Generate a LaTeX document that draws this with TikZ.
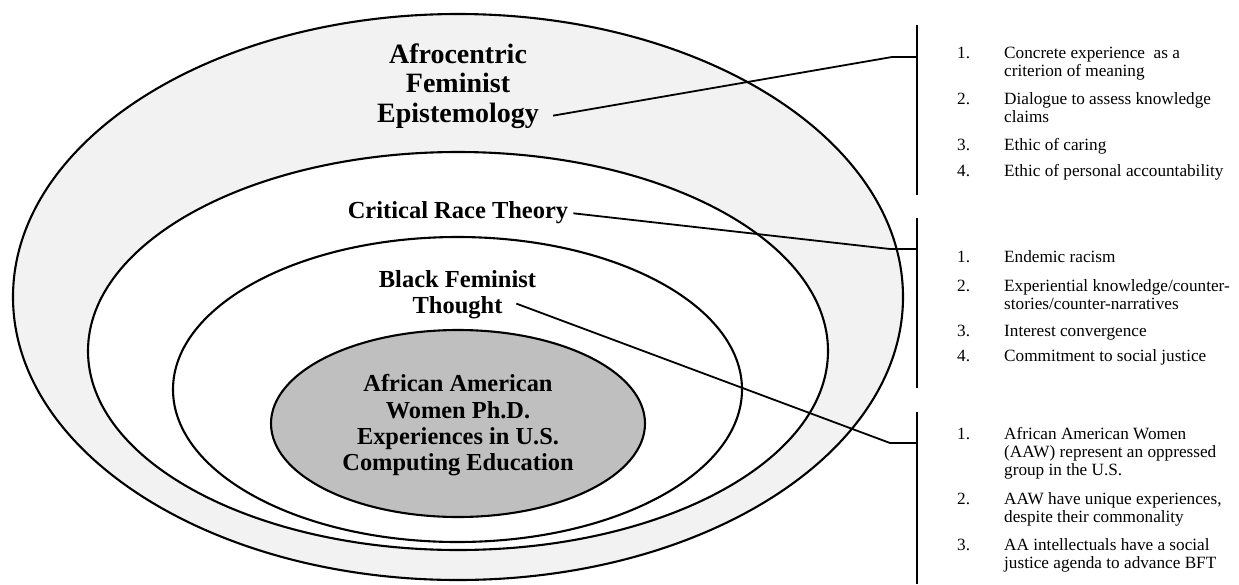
\documentclass[tikz,border=0pt]{standalone}
\usepackage{fontspec}
\setmainfont{Liberation Serif}
\usetikzlibrary{calc,shapes.geometric}
\definecolor{afefill}{gray}{0.949}
\definecolor{corefill}{gray}{0.749}

\begin{document}
\begin{tikzpicture}[x=1pt,y=-1pt,
  ring/.style={draw=black, line width=2.1pt, ellipse, inner sep=0pt},
  layerlabel/.style={font=\bfseries\fontsize{24.5}{26.2}\selectfont, align=center, inner sep=0pt},
  link/.style={draw=black, line width=1.8pt, line join=round},
  bracketbar/.style={draw=black, line width=2.7pt},
  tenets/.style={font=\fontsize{17.2}{18}\selectfont, align=left, inner sep=0pt, anchor=north west},
]
\useasboundingbox (0,0) rectangle (1239,584);

% nested layers, outermost first
\node[ring, fill=afefill, minimum width=890pt, minimum height=566pt] (afe) at (458,297) {};
\node[ring, fill=white, minimum width=740pt, minimum height=398pt] (crt) at (458,351) {};
\node[ring, fill=white, minimum width=569pt, minimum height=305pt] (bft) at (457.5,389.5) {};
\node[ring, fill=corefill, minimum width=374pt, minimum height=187pt] (core) at (458,423.5) {};

% layer names
\node[layerlabel, font=\bfseries\fontsize{28}{29.5}\selectfont] (afelabel) at (458,86)
  {Afrocentric\\Feminist\\Epistemology};
\node[layerlabel] (crtlabel) at (458,212.3) {Critical Race Theory};
\node[layerlabel, font=\bfseries\fontsize{24.5}{26}\selectfont] (bftlabel) at (457.5,294.2)
  {Black Feminist\\Thought};
\node[layerlabel, font=\bfseries\fontsize{24.4}{26.3}\selectfont] (corelabel) at (458,425.5)
  {African American\\Women Ph.D.\\Experiences in U.S.\\Computing Education};

% brackets holding the tenet lists
\coordinate (b1top) at (917,25);   \coordinate (b1bot) at (917,195);
\coordinate (b2top) at (917,218);  \coordinate (b2bot) at (917,388);
\coordinate (b3top) at (917,412);  \coordinate (b3bot) at (917,584);
\draw[bracketbar] (b1top) -- (b1bot);
\draw[bracketbar] (b2top) -- (b2bot);
\draw[bracketbar] (b3top) -- (b3bot);

% leader lines from each layer name to its bracket
\coordinate (k1) at (892,57);  \coordinate (j1) at (917,57);
\coordinate (k2) at (890,249); \coordinate (j2) at (917,249);
\coordinate (k3) at (890,443); \coordinate (j3) at (917,443);
\draw[link] ($(afelabel.south east)+(14,-13)$) -- (k1) -- (j1);
\draw[link] ($(crtlabel.east)+(5,1)$) -- (k2) -- (j2);
\draw[link] ($(bftlabel.south east)+(-20,-15)$) -- (k3) -- (j3);

% tenet lists
\node[tenets] (afelist) at (957,47) {%
  \makebox[47pt][l]{1.}Concrete experience\ \ as a\\
  \hspace*{47pt}criterion of meaning\\[10pt]
  \makebox[47pt][l]{2.}Dialogue to assess knowledge\\
  \hspace*{47pt}claims\\[10pt]
  \makebox[47pt][l]{3.}Ethic of caring\\[8pt]
  \makebox[47pt][l]{4.}Ethic of personal accountability};
\node[tenets] (crtlist) at (957,250) {%
  \makebox[47pt][l]{1.}Endemic racism\\[11pt]
  \makebox[47pt][l]{2.}Experiential knowledge/counter-\\
  \hspace*{47pt}stories/counter-narratives\\[9pt]
  \makebox[47pt][l]{3.}Interest convergence\\[7.5pt]
  \makebox[47pt][l]{4.}Commitment to social justice};
\node[tenets] (bftlist) at (957,427.5) {%
  \makebox[47pt][l]{1.}African American Women\\
  \hspace*{47pt}(AAW) represent an oppressed\\
  \hspace*{47pt}group in the U.S.\\[10.5pt]
  \makebox[47pt][l]{2.}AAW have unique experiences,\\
  \hspace*{47pt}despite their commonality\\[10.5pt]
  \makebox[47pt][l]{3.}AA intellectuals have a social\\
  \hspace*{47pt}justice agenda to advance BFT};
\end{tikzpicture}
\end{document}
